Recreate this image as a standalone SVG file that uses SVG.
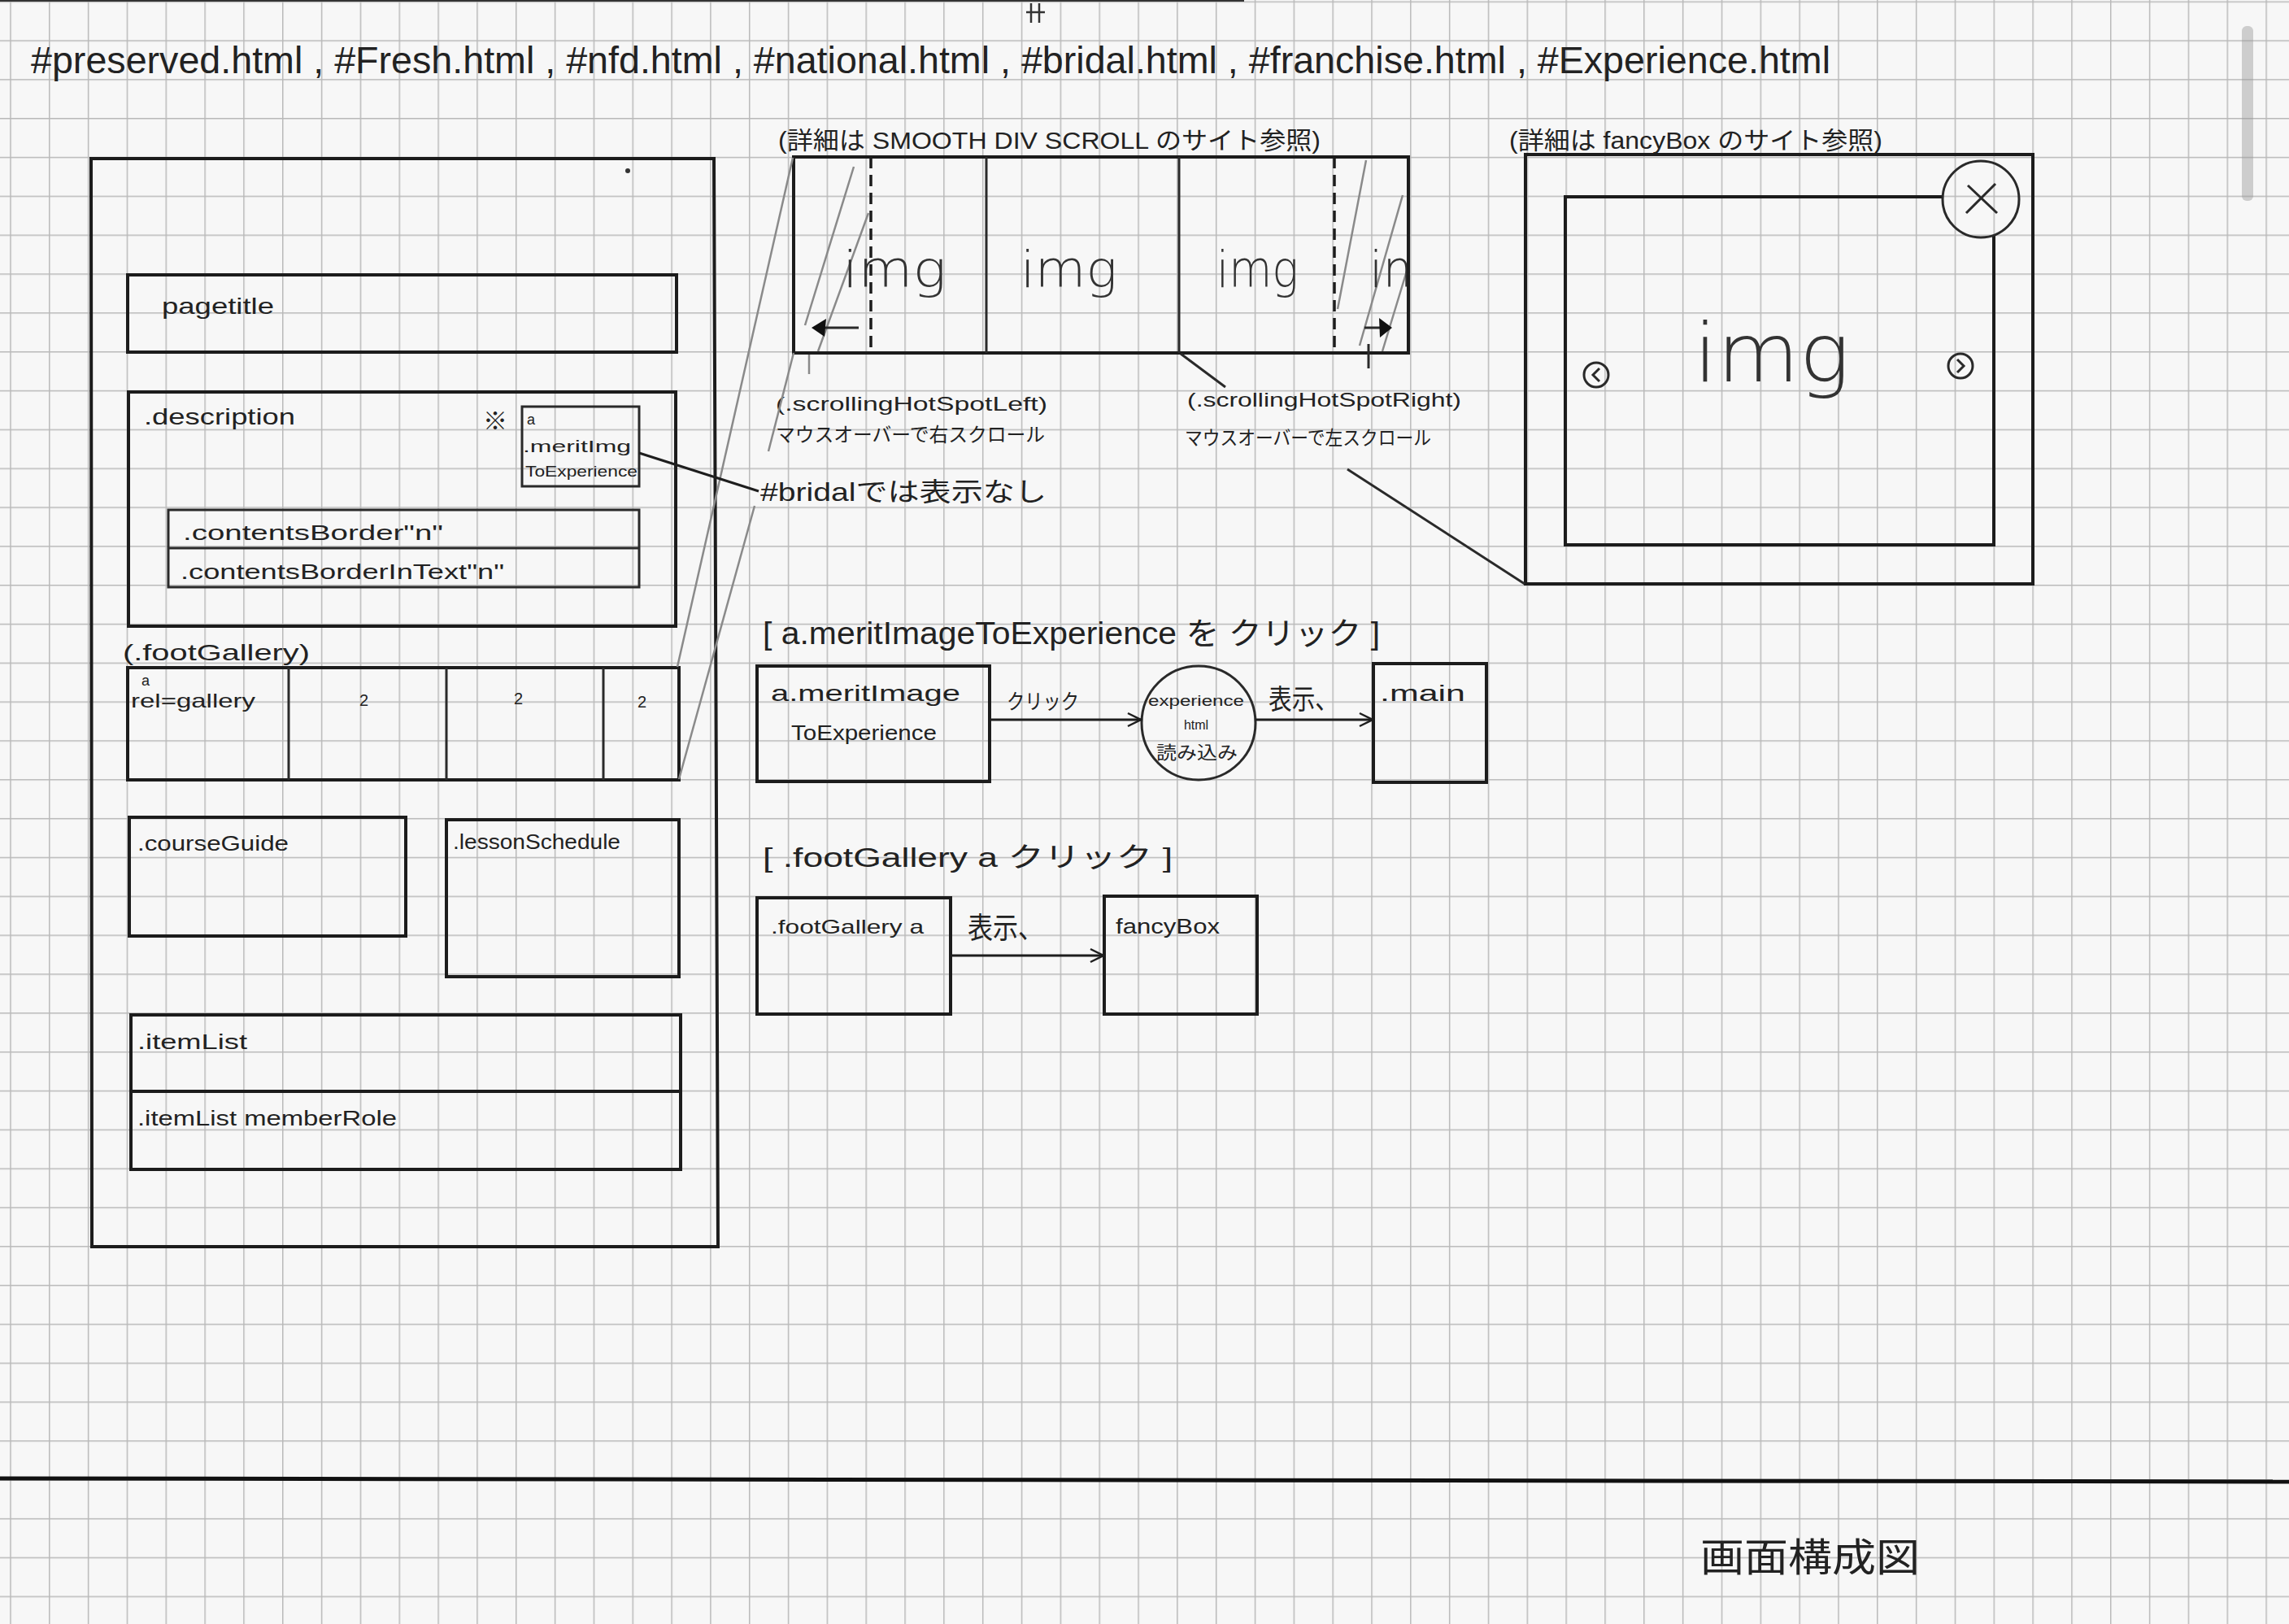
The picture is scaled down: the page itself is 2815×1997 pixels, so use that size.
<svg xmlns="http://www.w3.org/2000/svg" width="2815" height="1997" viewBox="0 0 2815 1997">
  <defs>
    <pattern id="grid" x="12.2" y="1.5" width="47.83" height="47.83" patternUnits="userSpaceOnUse">
      <path d="M0 0.5 H47.83 M0.5 0 V47.83" fill="none" stroke="#b9b9b9" stroke-width="2"/>
    </pattern>
    <marker id="open" viewBox="0 0 20 20" refX="18" refY="10" markerWidth="20" markerHeight="20" markerUnits="userSpaceOnUse" orient="auto">
      <path d="M2 2 L18 10 L2 18" fill="none" stroke="#1e1e1e" stroke-width="2.5"/>
    </marker>
    <clipPath id="scrollClip"><rect x="976" y="193" width="756" height="241"/></clipPath>
    <style>
      .box { fill: none; stroke: #1c1c1c; stroke-width: 4; stroke-linejoin: miter; }
      .thin { fill: none; stroke: #2a2a2a; stroke-width: 3; }
      .pencil { fill: none; stroke: #8a8a8a; stroke-width: 2.5; }
      .dash { fill: none; stroke: #1c1c1c; stroke-width: 3.5; stroke-dasharray: 14 8; }
      .edge { fill: none; stroke: #1e1e1e; stroke-width: 3; }
      text { font-family: 'Liberation Sans', 'Noto Sans CJK JP', sans-serif; fill: #222; }
      .jp { font-family: 'Noto Sans CJK JP', 'Liberation Sans', sans-serif; }
      .img { font-family: 'DejaVu Sans', 'Liberation Sans', sans-serif; font-weight: 200; fill: #333; }
    </style>
  </defs>

  <!-- graph paper -->
  <rect width="2815" height="1997" fill="#f7f7f7"/>
  <rect width="2815" height="1997" fill="url(#grid)"/>
  <line x1="0" y1="1" x2="1530" y2="1" stroke="#333" stroke-width="2"/>
  <rect x="2757" y="32" width="14" height="215" rx="6" fill="#9a9a9a" opacity="0.45"/>
  <path d="M1268 4 V28 M1278 4 V28 M1262 15 H1285" stroke="#333" stroke-width="2.5" fill="none"/>

  <!-- page heading -->
  <g id="title">
    <text x="38" y="90" font-size="46" textLength="2213" lengthAdjust="spacingAndGlyphs">#preserved.html , #Fresh.html , #nfd.html , #national.html , #bridal.html , #franchise.html , #Experience.html</text>
  </g>

  <!-- page layout -->
  <g id="page">
    <path class="box" d="M112 195 H878 L883 1533 H113 Z"/>
    <circle cx="772" cy="210" r="3" fill="#333"/>
  </g>
  <g id="pagetitle">
    <rect class="box" x="157" y="338" width="675" height="95"/>
    <text x="199" y="386" font-size="28" textLength="138" lengthAdjust="spacingAndGlyphs">pagetitle</text>
  </g>
  <g id="description">
    <rect class="box" x="158" y="482" width="673" height="288"/>
    <text x="177" y="522" font-size="28" textLength="186" lengthAdjust="spacingAndGlyphs">.description</text>
    <text x="594" y="528" font-size="30" class="jp">※</text>
  </g>
  <g id="meritImg">
    <rect class="thin" x="642" y="500" width="144" height="98"/>
    <text x="648" y="522" font-size="18">a</text>
    <text x="643" y="556" font-size="20" textLength="133" lengthAdjust="spacingAndGlyphs">.meritImg</text>
    <text x="646" y="586" font-size="19" textLength="138" lengthAdjust="spacingAndGlyphs">ToExperience</text>
  </g>
  <g id="contentsBorder">
    <rect class="thin" x="207" y="627" width="579" height="95"/>
    <line class="thin" x1="207" y1="674" x2="786" y2="674"/>
    <text x="225" y="664" font-size="26" textLength="320" lengthAdjust="spacingAndGlyphs">.contentsBorder"n"</text>
    <text x="222" y="712" font-size="26" textLength="398" lengthAdjust="spacingAndGlyphs">.contentsBorderInText"n"</text>
  </g>
  <g id="footGallery">
    <text x="151" y="812" font-size="28" textLength="230" lengthAdjust="spacingAndGlyphs">(.footGallery)</text>
    <rect class="box" x="157" y="821" width="678" height="138"/>
    <path class="thin" d="M355 821 V959 M549 821 V959 M742 821 V959"/>
    <text x="174" y="843" font-size="18">a</text>
    <text x="161" y="870" font-size="24" textLength="153" lengthAdjust="spacingAndGlyphs">rel=gallery</text>
    <text x="442" y="868" font-size="20">2</text>
    <text x="632" y="866" font-size="20">2</text>
    <text x="784" y="870" font-size="20">2</text>
  </g>
  <g id="courseGuide">
    <rect class="box" x="159" y="1005" width="340" height="146"/>
    <text x="169" y="1046" font-size="26" textLength="186" lengthAdjust="spacingAndGlyphs">.courseGuide</text>
  </g>
  <g id="lessonSchedule">
    <rect class="box" x="549" y="1008" width="286" height="193"/>
    <text x="557" y="1044" font-size="26" textLength="206" lengthAdjust="spacingAndGlyphs">.lessonSchedule</text>
  </g>
  <g id="itemList">
    <rect class="box" x="161" y="1248" width="676" height="190"/>
    <line class="box" x1="161" y1="1342" x2="837" y2="1342"/>
    <text x="169" y="1290" font-size="26" textLength="135" lengthAdjust="spacingAndGlyphs">.itemList</text>
    <text x="169" y="1384" font-size="26" textLength="319" lengthAdjust="spacingAndGlyphs">.itemList memberRole</text>
  </g>

  <!-- smooth div scroll strip -->
  <g id="smoothDivScroll">
    <text x="957" y="183" font-size="30" textLength="667" lengthAdjust="spacingAndGlyphs">(詳細は SMOOTH DIV SCROLL のサイト参照)</text>
    <path class="pencil" d="M1050 205 L990 400 M1068 262 L1006 432 M1680 197 L1645 380 M1725 240 L1672 425 M1731 330 L1700 432"/>
    <g clip-path="url(#scrollClip)">
      <text class="img" x="1036" y="353" font-size="62" textLength="128" lengthAdjust="spacingAndGlyphs">img</text>
      <text class="img" x="1255" y="353" font-size="62" textLength="119" lengthAdjust="spacingAndGlyphs">img</text>
      <text class="img" x="1496" y="353" font-size="62" textLength="101" lengthAdjust="spacingAndGlyphs">img</text>
      <text class="img" x="1684" y="353" font-size="62" textLength="110" lengthAdjust="spacingAndGlyphs">img</text>
    </g>
    <rect class="box" x="976" y="193" width="756" height="241"/>
    <path class="thin" d="M1213 193 V434 M1450 193 V434"/>
    <path class="dash" d="M1071 193 V434 M1641 193 V434"/>
    <path class="thin" d="M1012 403 H1056 M1678 403 H1700"/>
    <path d="M998 403 L1016 392 L1014 414 Z" fill="#111"/>
    <path d="M1712 403 L1696 391 L1697 415 Z" fill="#111"/>
  </g>
  <g id="hotSpotLeft">
    <text x="954" y="505" font-size="24" textLength="334" lengthAdjust="spacingAndGlyphs">(.scrollingHotSpotLeft)</text>
    <text class="jp" x="954" y="543" font-size="24" textLength="331" lengthAdjust="spacingAndGlyphs">マウスオーバーで右スクロール</text>
  </g>
  <g id="hotSpotRight">
    <text x="1460" y="500" font-size="24" textLength="337" lengthAdjust="spacingAndGlyphs">(.scrollingHotSpotRight)</text>
    <text class="jp" x="1457" y="547" font-size="24" textLength="303" lengthAdjust="spacingAndGlyphs">マウスオーバーで左スクロール</text>
  </g>
  <g id="bridalNote">
    <text x="935" y="616" font-size="32" textLength="352" lengthAdjust="spacingAndGlyphs">#bridalでは表示なし</text>
  </g>

  <!-- fancyBox mock-up -->
  <g id="fancyBoxView">
    <text x="1856" y="183" font-size="30" textLength="459" lengthAdjust="spacingAndGlyphs">(詳細は fancyBox のサイト参照)</text>
    <path class="box" d="M1876 190 H2500 V718 H1876 Z"/>
    <path class="box" d="M2389 242 H1925 V670 H2452 V289"/>
    <circle class="thin" cx="2436" cy="245" r="47"/>
    <path class="thin" d="M2420 228 L2456 262 M2454 226 L2418 262"/>
    <circle class="thin" cx="1963" cy="461" r="15"/>
    <path class="thin" d="M1967 453 L1959 461 L1967 469" stroke-width="2.5"/>
    <circle class="thin" cx="2411" cy="450" r="15"/>
    <path class="thin" d="M2407 442 L2415 450 L2407 458" stroke-width="2.5"/>
    <text class="img" x="2083" y="469" font-size="100" textLength="192" lengthAdjust="spacingAndGlyphs">img</text>
  </g>

  <!-- flow: a.meritImageToExperience click -->
  <g id="flow1Title">
    <text x="938" y="792" font-size="38" textLength="759" lengthAdjust="spacingAndGlyphs">[ a.meritImageToExperience を クリック ]</text>
  </g>
  <g id="flow1Source">
    <rect class="box" x="931" y="819" width="286" height="142"/>
    <text x="948" y="862" font-size="28" textLength="233" lengthAdjust="spacingAndGlyphs">a.meritImage</text>
    <text x="973" y="910" font-size="26" textLength="179" lengthAdjust="spacingAndGlyphs">ToExperience</text>
  </g>
  <g id="flow1Load">
    <circle class="thin" cx="1474" cy="889" r="70"/>
    <text x="1471" y="868" font-size="18" text-anchor="middle" textLength="118" lengthAdjust="spacingAndGlyphs">experience</text>
    <text x="1471" y="897" font-size="16" text-anchor="middle">html</text>
    <text class="jp" x="1472" y="933" font-size="22" text-anchor="middle" textLength="100" lengthAdjust="spacingAndGlyphs">読み込み</text>
  </g>
  <g id="flow1Main">
    <rect class="box" x="1689" y="816" width="139" height="146"/>
    <text x="1697" y="862" font-size="28" textLength="105" lengthAdjust="spacingAndGlyphs">.main</text>
  </g>

  <!-- flow: .footGallery a click -->
  <g id="flow2Title">
    <text x="938" y="1066" font-size="34" textLength="504" lengthAdjust="spacingAndGlyphs">[ .footGallery a クリック ]</text>
  </g>
  <g id="flow2Source">
    <rect class="box" x="931" y="1104" width="238" height="143"/>
    <text x="948" y="1148" font-size="24" textLength="188" lengthAdjust="spacingAndGlyphs">.footGallery a</text>
  </g>
  <g id="flow2Target">
    <rect class="box" x="1358" y="1102" width="188" height="145"/>
    <text x="1372" y="1148" font-size="26" textLength="128" lengthAdjust="spacingAndGlyphs">fancyBox</text>
  </g>

  <!-- connectors -->
  <g id="connectors">
    <line class="pencil" x1="975" y1="194" x2="833" y2="820"/>
    <line class="pencil" x1="976" y1="434" x2="945" y2="555"/>
    <line class="pencil" x1="928" y1="622" x2="835" y2="958"/>
    <line class="edge" x1="786" y1="557" x2="933" y2="604"/>
    <line class="thin" x1="1452" y1="435" x2="1507" y2="476" stroke-width="2.5"/>
    <line class="thin" x1="1657" y1="577" x2="1875" y2="718" stroke-width="2.5"/>
    <line class="pencil" x1="995" y1="436" x2="995" y2="460"/>
    <line class="thin" x1="1683" y1="423" x2="1683" y2="453" stroke-width="2.5"/>
    <line class="edge" x1="1217" y1="885" x2="1403" y2="885" marker-end="url(#open)"/>
    <text class="jp" x="1238" y="872" font-size="26" textLength="89" lengthAdjust="spacingAndGlyphs">クリック</text>
    <line class="edge" x1="1544" y1="885" x2="1688" y2="885" marker-end="url(#open)"/>
    <text class="jp" x="1560" y="872" font-size="34" textLength="86" lengthAdjust="spacingAndGlyphs">表示、</text>
    <line class="edge" x1="1169" y1="1175" x2="1357" y2="1175" marker-end="url(#open)"/>
    <text class="jp" x="1190" y="1154" font-size="36" textLength="93" lengthAdjust="spacingAndGlyphs">表示、</text>
  </g>

  <!-- footer -->
  <g id="footer">
    <line x1="0" y1="1818" x2="2815" y2="1822" stroke="#111" stroke-width="5"/>
    <text class="jp" x="2091" y="1932" font-size="48" textLength="270" lengthAdjust="spacingAndGlyphs">画面構成図</text>
  </g>
</svg>
